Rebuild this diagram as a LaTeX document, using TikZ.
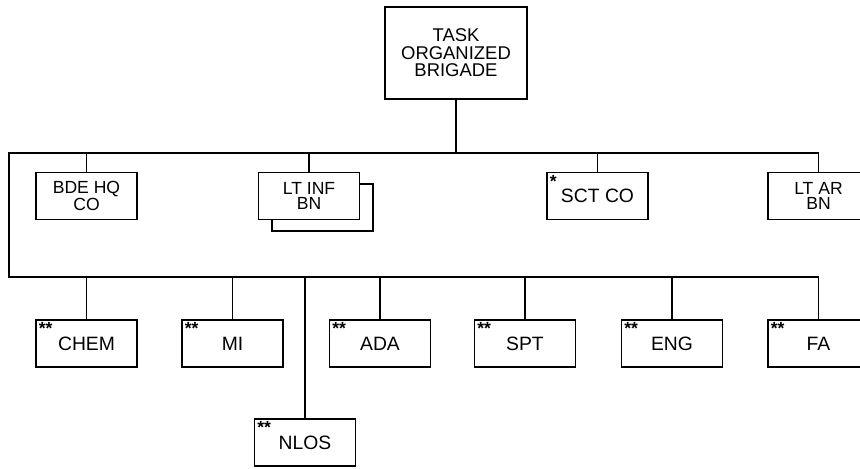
\documentclass[tikz,border=0pt]{standalone}
\usepackage{fontspec}
\setmainfont{Liberation Sans}
\usetikzlibrary{shadows}
\begin{document}
\begin{tikzpicture}[x=0.02cm,y=-0.02cm,line width=1.1pt,
  unit/.style={draw,fill=white,minimum width=2.02cm,minimum height=0.94cm,
    inner sep=0pt,align=center,font=\fontsize{10}{8.6}\selectfont},
  big/.style={font=\fontsize{11}{11}\selectfont},
  stars/.style={label={[anchor=north west,inner sep=1.6pt,
    font=\bfseries\fontsize{10}{10}\selectfont]north west:#1}}]
\useasboundingbox (0,0) rectangle (860,469);
% top
\node[draw,fill=white,minimum width=2.84cm,minimum height=1.84cm,align=center,
  font=\fontsize{10.5}{10}\selectfont] (tob) at (456,53) {TASK\\ORGANIZED\\BRIGADE};
% first row
\node[unit] (hq) at (86.5,196) {BDE HQ\\CO};
\node[unit,copy shadow={shadow xshift=0.27cm,shadow yshift=-0.23cm}] (inf) at (309,196) {LT INF\\BN};
\node[unit,big,stars=*] (sct) at (597.5,196) {SCT CO};
\node[unit] (ltar) at (818.5,196) {LT AR\\BN};
% second row
\node[unit,big,stars=**] (chem) at (86.5,343.5) {CHEM};
\node[unit,big,stars=**] (mi) at (232.5,343.5) {MI};
\node[unit,big,stars=**] (ada) at (380,343.5) {ADA};
\node[unit,big,stars=**] (spt) at (525,343.5) {SPT};
\node[unit,big,stars=**] (eng) at (672,343.5) {ENG};
\node[unit,big,stars=**] (fa) at (818.5,343.5) {FA};
\node[unit,big,stars=**] (nlos) at (305,442.5) {NLOS};
% bus
\coordinate (tl) at (9,153);
\coordinate (bl) at (9,277);
\draw (ltar.north) |- (tl) -- (bl) -| (fa.north);
\draw (tob.south) -- (tob.south |- tl);
\foreach \n in {hq,inf,sct}
  \draw (\n.north) -- (\n.north |- tl);
\foreach \n in {chem,mi,nlos,ada,spt,eng}
  \draw (\n.north) -- (\n.north |- bl);
\end{tikzpicture}
\end{document}
